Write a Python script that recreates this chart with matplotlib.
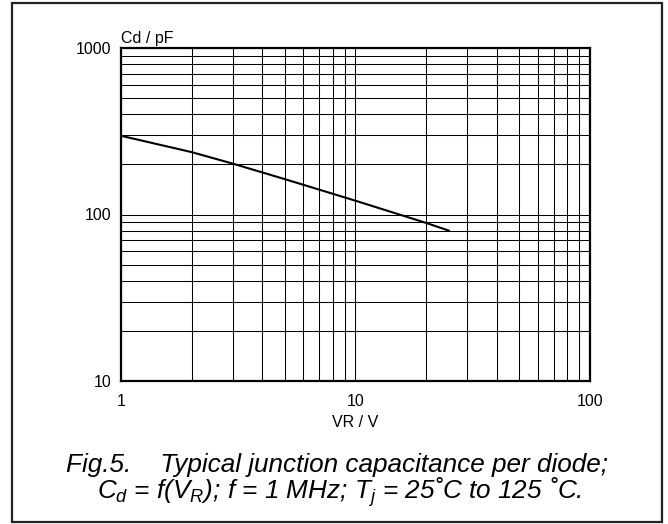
import matplotlib
matplotlib.use("Agg")
import matplotlib.pyplot as plt
from matplotlib.patches import Rectangle
from matplotlib.ticker import LogLocator, NullFormatter, FixedLocator, FixedFormatter

# Data
vr = [1, 2, 3, 5, 10, 20, 25]
cd = [297, 237, 202, 163, 121, 89, 80]

x_ticks = [1, 10, 100]
x_labels = ["1", "10", "100"]
y_ticks = [10, 100, 1000]
y_labels = ["10", "100", "1000"]

plt.rcParams['font.family'] = ['Liberation Sans', 'DejaVu Sans']
plt.rcParams['mathtext.fontset'] = 'custom'
plt.rcParams['mathtext.rm'] = 'Liberation Sans:italic'
plt.rcParams['mathtext.it'] = 'Liberation Sans:italic'
plt.rcParams['mathtext.sf'] = 'Liberation Sans:italic'

W, H = 668, 524
fig = plt.figure(figsize=(W / 100, H / 100), dpi=100)

# outer frame
fig.patches.append(Rectangle((12 / W, 1 - 522 / H), 650 / W, 519 / H,
                             transform=fig.transFigure, fill=False,
                             edgecolor='#222222', linewidth=1.6))

ax = fig.add_axes([121 / W, 1 - 381 / H, 469 / W, 333 / H])
ax.set_xscale('log')
ax.set_yscale('log')
ax.set_xlim(1, 100)
ax.set_ylim(10, 1000)

ax.plot(vr, cd, color='black', linewidth=1.5)

ax.xaxis.set_major_locator(FixedLocator(x_ticks))
ax.xaxis.set_major_formatter(FixedFormatter(x_labels))
ax.yaxis.set_major_locator(FixedLocator(y_ticks))
ax.yaxis.set_major_formatter(FixedFormatter(y_labels))
ax.xaxis.set_minor_locator(LogLocator(base=10, subs=range(2, 10)))
ax.yaxis.set_minor_locator(LogLocator(base=10, subs=range(2, 10)))
ax.xaxis.set_minor_formatter(NullFormatter())
ax.yaxis.set_minor_formatter(NullFormatter())

ax.grid(True, which='both', color='black', linewidth=0.75)
ax.tick_params(which='both', length=0, labelsize=11.5, colors='black')
ax.tick_params(axis='x', pad=9.5)
ax.tick_params(axis='y', pad=7)
for s in ax.spines.values():
    s.set_linewidth(1.6)
    s.set_color('black')

ax.text(0.0, 1 + 4.5 / 333, "Cd / pF", transform=ax.transAxes, ha='left',
        va='baseline', fontsize=11.5)
ax.set_xlabel("VR / V", fontsize=11.5, labelpad=4)

fig.text(337 / W, 1 - 465 / H, "Fig.5.    Typical junction capacitance per diode;",
         ha='center', va='center', fontsize=18.8, style='italic')
fig.text(339 / W, 1 - 492 / H,
         r"$C_d$ = f($V_R$); f = 1 MHz; $T_j$ = 25˚C to 125 ˚C.",
         ha='center', va='center', fontsize=18.8, style='italic')

fig.savefig("out.png", dpi=100)
